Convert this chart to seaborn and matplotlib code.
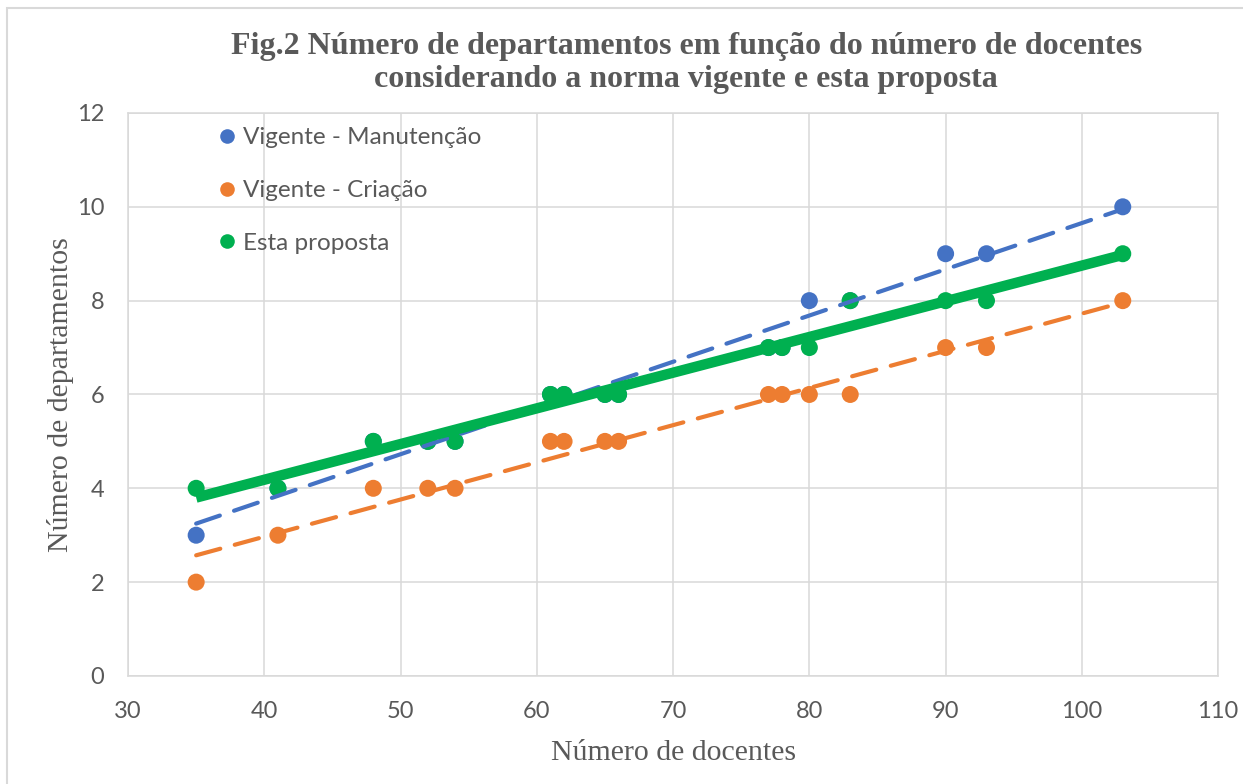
import numpy as np
import pandas as pd
import matplotlib.pyplot as plt
import seaborn as sns
from matplotlib.lines import Line2D

docentes = [35, 41, 48, 52, 54, 61, 62, 65, 66, 77, 78, 80, 83, 90, 93, 103]
manutencao = [3, 4, 5, 5, 5, 6, 6, 6, 6, 7, 7, 8, 8, 9, 9, 10]
criacao = [2, 3, 4, 4, 4, 5, 5, 5, 5, 6, 6, 6, 6, 7, 7, 8]
proposta = [4, 4, 5, 5, 5, 6, 6, 6, 6, 7, 7, 7, 8, 8, 8, 9]

series = ['Vigente - Manutenção', 'Vigente - Criação', 'Esta proposta']
cores = ['#4472C4', '#ED7D31', '#00B050']

df = pd.DataFrame({
    'docentes': docentes * 3,
    'departamentos': manutencao + criacao + proposta,
    'serie': [series[0]] * len(docentes) + [series[1]] * len(docentes) + [series[2]] * len(docentes),
})

sns.set_style('white')
plt.rcParams['font.family'] = ['Lato', 'DejaVu Sans']
cinza = '#595959'
grade = '#D9D9D9'

fig = plt.figure(figsize=(12.43, 7.84), dpi=100)
ax = fig.add_axes([0.103, 0.1378, 0.877, 0.7181])

sns.scatterplot(data=df, x='docentes', y='departamentos', hue='serie',
                palette=dict(zip(series, cores)), s=150, linewidth=0,
                legend=False, ax=ax, zorder=3)

# linhas de tendencia
estilos = [(0, (6, 3.6)), (0, (6, 3.6)), '-']
larguras = [3.0, 3.0, 7.5]
for nome, cor, ls, lw in zip(series, cores, estilos, larguras):
    sub = df[df['serie'] == nome]
    sns.regplot(data=sub, x='docentes', y='departamentos', scatter=False, ci=None,
                ax=ax, color=cor,
                line_kws={'linestyle': ls, 'linewidth': lw,
                          'dash_capstyle': 'round', 'solid_capstyle': 'butt', 'zorder': 4})

ax.set_xlim(30, 110)
ax.set_ylim(0, 12)
ax.set_xticks(range(30, 111, 10))
ax.set_yticks(range(0, 13, 2))
ax.grid(True, color=grade, linewidth=1.1)
ax.set_axisbelow(True)
for s in ax.spines.values():
    s.set_color(grade)
    s.set_linewidth(1.1)
ax.tick_params(axis='both', length=0, labelsize=17, colors=cinza)
ax.tick_params(axis='x', pad=18)
ax.tick_params(axis='y', pad=17)

ax.set_xlabel('Número de docentes', family='Liberation Serif', fontsize=21.5, color=cinza, labelpad=13)
ax.set_ylabel('Número de departamentos', family='Liberation Serif', fontsize=21.5, color=cinza, labelpad=2)

fig.text(0.552, 0.92, 'Fig.2 Número de departamentos em função do número de docentes\n'
         'considerando a norma vigente e esta proposta',
         ha='center', va='center', family='Liberation Serif', fontweight='bold',
         fontsize=23, color=cinza, linespacing=1.17)

handles = [Line2D([], [], marker='o', linestyle='', markersize=10.5,
                  markerfacecolor=c, markeredgewidth=0) for c in cores]
leg = ax.legend(handles, series, loc='upper left', bbox_to_anchor=(0.064, 1.005),
                frameon=False, fontsize=17.5, labelspacing=1.31, handletextpad=0.15,
                handlelength=1.0, borderaxespad=0.3)
for t in leg.get_texts():
    t.set_color(cinza)

# borda do grafico
fig.add_artist(plt.Rectangle((7 / 1243, -0.1), 1.2, 1.1 - 8 / 784,
                             transform=fig.transFigure, fill=False,
                             edgecolor=grade, linewidth=1.5))

fig.savefig('out.png', dpi=100)
